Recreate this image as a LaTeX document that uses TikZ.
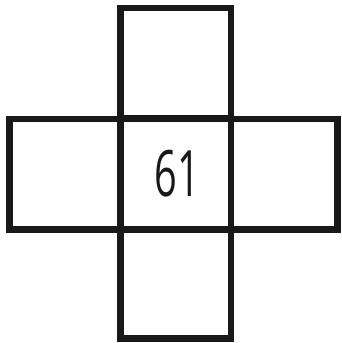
\documentclass[tikz,border=0pt]{standalone}
\usepackage{fontspec}
\usepackage{graphicx}
\newfontfamily\handfont{Open Sans}
\begin{document}
\begin{tikzpicture}[x=1pt,y=-1pt,
  cell/.style={draw=black!90, line width=6.5pt, inner sep=0pt, minimum width=110.5pt, minimum height=110.5pt, anchor=center},
  digits/.style={font=\handfont\fontsize{64}{64}\selectfont, text=black!90}]
\useasboundingbox (0,0) rectangle (341,343);
\node[cell] (top) at (175.75,63.25) {};
\node[cell] (left) at (64.75,174.25) {};
\node[cell, minimum width=106.5pt] (right) at (284.25,174.25) {};
\node[cell, minimum height=108.5pt] (bottom) at (175.75,284.25) {};
\node[cell] (center) at (175.75,174.25) {};
\node[digits] (num) at (177,174) {\scalebox{0.62}[1]{61}};
\end{tikzpicture}
\end{document}
